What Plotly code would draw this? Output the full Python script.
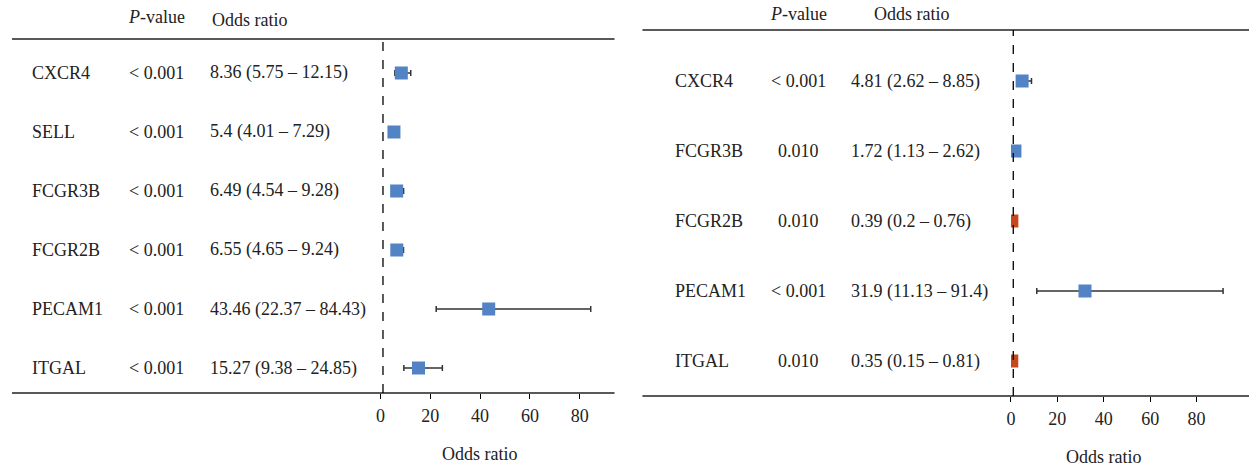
import plotly.graph_objects as go

W, H = 1249, 470
FONT = "Liberation Serif"
BLUE = "#5283c5"
RED = "#c5491c"

# left panel data
genes_l = ["CXCR4", "SELL", "FCGR3B", "FCGR2B", "PECAM1", "ITGAL"]
pval_l = ["< 0.001", "< 0.001", "< 0.001", "< 0.001", "< 0.001", "< 0.001"]
or_l = [8.36, 5.4, 6.49, 6.55, 43.46, 15.27]
lo_l = [5.75, 4.01, 4.54, 4.65, 22.37, 9.38]
hi_l = [12.15, 7.29, 9.28, 9.24, 84.43, 24.85]

# right panel data
genes_r = ["CXCR4", "FCGR3B", "FCGR2B", "PECAM1", "ITGAL"]
pval_r = ["< 0.001", "0.010", "0.010", "< 0.001", "0.010"]
or_r = [4.81, 1.72, 0.39, 31.9, 0.35]
lo_r = [2.62, 1.13, 0.2, 11.13, 0.15]
hi_r = [8.85, 2.62, 0.76, 91.4, 0.81]

ticks = [0, 20, 40, 60, 80]


def px(x):
    return x / W


def py(y):
    return 1 - y / H


fig = go.Figure()

panels = [
    dict(g=genes_l, p=pval_l, o=or_l, lo=lo_l, hi=hi_l, ax="", left=7, right=612,
         zero=377, ppu=2.5, top=39, bot=393, first=73, step=59,
         gx=25, pcx=152, ox=204, hp=(152, 17), ho=(206, 20)),
    dict(g=genes_r, p=pval_r, o=or_r, lo=lo_r, hi=hi_r, ax="2", left=640, right=1249,
         zero=1010, ppu=2.33, top=30, bot=396, first=81, step=70,
         gx=671, pcx=797, ox=847, hp=(797, 14), ho=(870, 14)),
]

tf = dict(family=FONT, size=18, color="#222222")

for pn in panels:
    n = len(pn["g"])
    rows = list(range(n))
    colors = [RED if v < 1 else BLUE for v in pn["o"]]
    xa = "x" + pn["ax"]
    ya = "y" + pn["ax"]
    fig.add_trace(go.Scatter(
        x=pn["o"], y=rows, mode="markers", xaxis=xa, yaxis=ya,
        marker=dict(symbol="square", size=13, color=colors, line=dict(width=0)),
        error_x=dict(type="data", symmetric=False,
                     array=[h - o for h, o in zip(pn["hi"], pn["o"])],
                     arrayminus=[o - l for o, l in zip(pn["o"], pn["lo"])],
                     color="#333333", thickness=1.5, width=3),
        showlegend=False, hoverinfo="skip",
    ))

    y0 = -(pn["first"] - pn["top"]) / pn["step"]
    y1 = (n - 1) + (pn["bot"] - (pn["first"] + (n - 1) * pn["step"])) / pn["step"]
    xmax = (pn["right"] - pn["zero"]) / pn["ppu"]
    fig.layout["xaxis" + pn["ax"]] = dict(
        domain=[px(pn["zero"]), px(pn["right"])], range=[0, xmax], anchor=ya,
        tickvals=ticks, ticks="outside", ticklen=5, tickcolor="black", tickwidth=1.2,
        ticklabelstandoff=1,
        showgrid=False, zeroline=False, showline=False,
        tickfont=tf,
    )
    fig.layout["yaxis" + pn["ax"]] = dict(
        domain=[py(pn["bot"]), py(pn["top"])], range=[y1, y0], anchor=xa,
        visible=False, showgrid=False, zeroline=False,
    )

    # horizontal rules
    for yy in (pn["top"], pn["bot"]):
        fig.add_shape(type="line", xref="paper", yref="paper",
                      x0=px(pn["left"]), x1=px(pn["right"]), y0=py(yy), y1=py(yy),
                      line=dict(color="#222222", width=1.3))
    # reference line at OR = 1
    fig.add_shape(type="line", xref=xa, yref=ya + " domain", x0=1, x1=1, y0=0, y1=1,
                  line=dict(color="black", width=1.3, dash="dash"))

    for i in rows:
        fig.add_annotation(x=px(pn["gx"]), y=i, xref="paper", yref=ya, text=pn["g"][i],
                           showarrow=False, xanchor="left", yanchor="middle", font=tf)
        fig.add_annotation(x=px(pn["pcx"]), y=i, xref="paper", yref=ya, text=pn["p"][i],
                           showarrow=False, xanchor="center", yanchor="middle", font=tf)
        txt = f"{pn['o'][i]:g} ({pn['lo'][i]:g} – {pn['hi'][i]:g})"
        fig.add_annotation(x=px(pn["ox"]), y=i, xref="paper", yref=ya, text=txt,
                           showarrow=False, xanchor="left", yanchor="middle", font=tf)

    fig.add_annotation(x=px(pn["hp"][0]), y=py(pn["hp"][1]), xref="paper", yref="paper",
                       text="<i>P</i>-value", showarrow=False, xanchor="center",
                       yanchor="middle", font=tf)
    fig.add_annotation(x=px(pn["ho"][0]), y=py(pn["ho"][1]), xref="paper", yref="paper",
                       text="Odds ratio", showarrow=False, xanchor="left",
                       yanchor="middle", font=tf)
    fig.add_annotation(x=40, y=py(pn["bot"] + 61), xref=xa, yref="paper",
                       text="Odds ratio", showarrow=False, xanchor="center",
                       yanchor="middle", font=tf)

fig.update_layout(
    width=W, height=H, margin=dict(l=0, r=0, t=0, b=0),
    paper_bgcolor="white", plot_bgcolor="white",
    font=dict(family=FONT),
)

fig.write_html("out.html", config={"displayModeBar": False},
               post_script="document.body.style.margin='0';")
